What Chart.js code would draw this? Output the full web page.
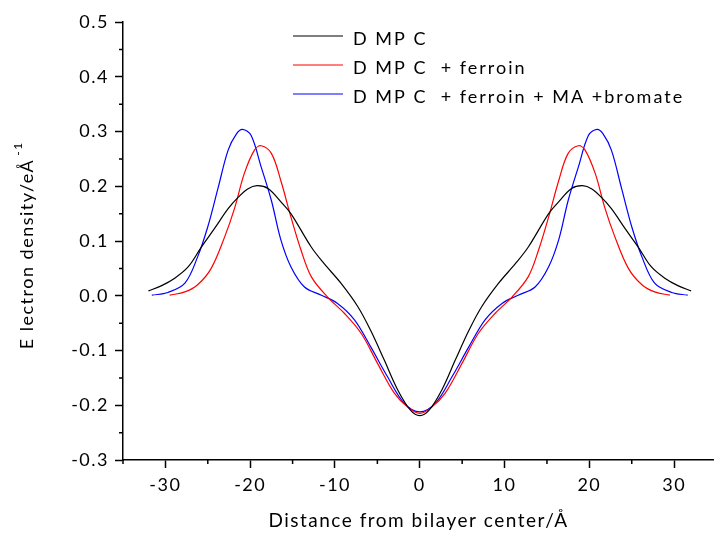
<!DOCTYPE html>
<html>
<head>
<meta charset="utf-8">
<script src="https://cdn.jsdelivr.net/npm/chart.js@4"></script>
<style>
  html, body { margin: 0; padding: 0; background: #fff; }
  #wrap { width: 714px; height: 535px; }
</style>
</head>
<body>
<div id="wrap"><canvas id="c" width="714" height="535"></canvas></div>
<script>
// values (x in Å, y in e/Å)
const dmpcX = [-32.0, -30.5, -28.9, -27.3, -25.8, -24.2, -22.6, -21.4, -20.3, -19.2, -17.9, -16.4, -15.2, -12.8, -11.3, -9.3, -7.3, -5.8, -4.2, -2.6, -1.1, 0,
  1.1, 2.6, 4.2, 5.8, 7.3, 9.3, 11.3, 12.8, 15.2, 16.4, 17.9, 19.2, 20.3, 21.4, 22.6, 24.2, 25.8, 27.3, 28.9, 30.5, 32.0];
const dmpcY = [0.009, 0.018, 0.032, 0.053, 0.088, 0.123, 0.159, 0.180, 0.195, 0.201, 0.196, 0.172, 0.150, 0.089, 0.059, 0.023, -0.020, -0.063, -0.117, -0.172, -0.209, -0.219,
  -0.209, -0.172, -0.117, -0.063, -0.020, 0.023, 0.059, 0.089, 0.150, 0.172, 0.196, 0.201, 0.195, 0.180, 0.159, 0.123, 0.088, 0.053, 0.032, 0.018, 0.009];

const ferroinX = [-29.5, -27.7, -26.2, -24.6, -23.0, -21.8, -20.7, -19.5, -18.7, -17.5, -16.4, -15.2, -14.0, -12.8, -10.9, -8.9, -6.9, -5.0, -3.0, -1.45, 0,
  1.45, 3.0, 5.0, 6.9, 8.9, 10.9, 12.8, 14.0, 15.2, 16.4, 17.5, 18.7, 19.5, 20.7, 21.8, 23.0, 24.6, 26.2, 27.7, 29.5];
const ferroinY = [0.001, 0.007, 0.020, 0.050, 0.108, 0.162, 0.223, 0.266, 0.274, 0.260, 0.211, 0.144, 0.083, 0.035, -0.002, -0.032, -0.069, -0.123, -0.178, -0.203, -0.215,
  -0.203, -0.178, -0.123, -0.069, -0.032, -0.002, 0.035, 0.083, 0.144, 0.211, 0.260, 0.274, 0.266, 0.223, 0.162, 0.108, 0.050, 0.020, 0.007, 0.001];

const bromateX = [-31.6, -29.7, -27.7, -26.2, -25.0, -23.8, -22.6, -21.6, -20.9, -19.9, -18.7, -17.5, -16.4, -15.2, -13.6, -11.6, -9.7, -7.7, -5.8, -3.8, -1.85, 0,
  1.85, 3.8, 5.8, 7.7, 9.7, 11.6, 13.6, 15.2, 16.4, 17.5, 18.7, 19.9, 20.9, 21.6, 22.6, 23.8, 25.0, 26.2, 27.7, 29.7, 31.6];
const bromateY = [0.001, 0.006, 0.023, 0.071, 0.126, 0.196, 0.266, 0.296, 0.304, 0.293, 0.235, 0.174, 0.103, 0.053, 0.016, 0.001, -0.014, -0.044, -0.093, -0.148, -0.196, -0.212,
  -0.196, -0.148, -0.093, -0.044, -0.014, 0.001, 0.016, 0.053, 0.103, 0.174, 0.235, 0.293, 0.304, 0.296, 0.266, 0.196, 0.126, 0.071, 0.023, 0.006, 0.001];

const seriesLabels = ['D MP C', 'D MP C  + ferroin', 'D MP C  + ferroin + MA +bromate'];
const seriesColors = ['#000000', '#ff0000', '#0000ff'];

const xTicks = [-30, -20, -10, 0, 10, 20, 30];
const xMinor = [-35, -25, -15, -5, 5, 15, 25];
const yTicks = [-0.3, -0.2, -0.1, 0.0, 0.1, 0.2, 0.3, 0.4, 0.5];
const yMinor = [-0.25, -0.15, -0.05, 0.05, 0.15, 0.25, 0.35, 0.45];

const FONT = 'Lato';

function pts(xs, ys) {
  return xs.map((x, i) => ({ x: x, y: ys[i] }));
}

// letter spacing like the original figure
const spacing = {
  id: 'spacing',
  beforeLayout(chart) { chart.ctx.letterSpacing = '1.5px'; },
  beforeDraw(chart) { chart.ctx.letterSpacing = '1.5px'; }
};

// minor ticks, y title with superscript, legend in the plot
const extras = {
  id: 'extras',
  afterDraw(chart) {
    const ctx = chart.ctx;
    const xs = chart.scales.x, ys = chart.scales.y;
    ctx.save();
    ctx.strokeStyle = '#000';
    ctx.lineWidth = 1.5;
    ctx.beginPath();
    xMinor.forEach(v => {
      const px = xs.getPixelForValue(v);
      ctx.moveTo(px, ys.bottom);
      ctx.lineTo(px, ys.bottom + 4);
    });
    yMinor.forEach(v => {
      const py = ys.getPixelForValue(v);
      ctx.moveTo(xs.left, py);
      ctx.lineTo(xs.left - 4, py);
    });
    ctx.stroke();

    // y axis title
    ctx.fillStyle = '#000';
    ctx.letterSpacing = '1.5px';
    ctx.translate(27, 254);
    ctx.rotate(-Math.PI / 2);
    ctx.font = '18px ' + FONT;
    ctx.textAlign = 'center';
    ctx.textBaseline = 'middle';
    const t = 'E lectron density/eÅ';
    const w = ctx.measureText(t).width;
    ctx.fillText(t, 0, 0);
    ctx.font = '12px ' + FONT;
    ctx.textAlign = 'left';
    ctx.fillText('-1', w / 2 + 3, -9);
    ctx.restore();

    // legend
    ctx.save();
    ctx.letterSpacing = '2px';
    ctx.font = '18px ' + FONT;
    ctx.textBaseline = 'middle';
    ctx.fillStyle = '#000';
    const rows = [38, 67, 96];
    chart.data.datasets.forEach((ds, i) => {
      ctx.strokeStyle = ds.borderColor;
      ctx.lineWidth = 1.2;
      ctx.beginPath();
      ctx.moveTo(293, rows[i] - 2);
      ctx.lineTo(343, rows[i] - 2);
      ctx.stroke();
      ctx.fillText(ds.label, 353, rows[i] + 1);
    });
    ctx.restore();
  }
};

const ctx = document.getElementById('c');

const chart = new Chart(ctx, {
  type: 'line',
  data: {
    datasets: [
      { label: seriesLabels[0], data: pts(dmpcX, dmpcY), borderColor: seriesColors[0] },
      { label: seriesLabels[1], data: pts(ferroinX, ferroinY), borderColor: seriesColors[1] },
      { label: seriesLabels[2], data: pts(bromateX, bromateY), borderColor: seriesColors[2] }
    ]
  },
  options: {
    responsive: false,
    animation: false,
    devicePixelRatio: 1,
    layout: { padding: { top: 22, right: 0, left: 0, bottom: 0 } },
    elements: {
      point: { radius: 0 },
      line: { borderWidth: 1.2, tension: 0.35, fill: false }
    },
    plugins: {
      legend: { display: false },
      tooltip: { enabled: false }
    },
    scales: {
      x: {
        type: 'linear',
        min: -35,
        max: 34.7,
        afterBuildTicks: s => { s.ticks = xTicks.map(v => ({ value: v })); },
        afterFit: s => { s.height = 75; },
        border: { color: '#000', width: 1.5 },
        grid: { drawOnChartArea: false, tickLength: 8, tickColor: '#000', tickWidth: 1.5 },
        ticks: { color: '#000', font: { family: FONT, size: 18 }, padding: 6, maxRotation: 0 },
        title: {
          display: true,
          text: 'Distance from bilayer center/Å',
          color: '#000',
          font: { family: FONT, size: 19 },
          padding: { top: 0, bottom: 3 }
        }
      },
      y: {
        min: -0.3,
        max: 0.5,
        afterBuildTicks: s => { s.ticks = yTicks.map(v => ({ value: v })); },
        afterFit: s => { s.width = 123; },
        border: { color: '#000', width: 1.5 },
        grid: { drawOnChartArea: false, tickLength: 8, tickColor: '#000', tickWidth: 1.5 },
        ticks: {
          color: '#000',
          font: { family: FONT, size: 18 },
          padding: 6,
          callback: v => v.toFixed(1)
        }
      }
    }
  },
  plugins: [spacing, extras]
});
</script>
</body>
</html>
